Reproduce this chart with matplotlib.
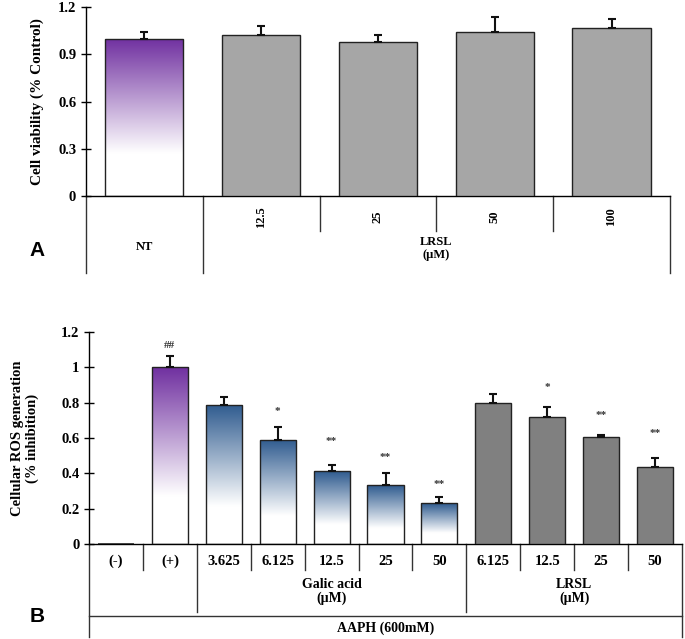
import numpy as np
import matplotlib
matplotlib.use('Agg')
import matplotlib.pyplot as plt
from matplotlib.colors import LinearSegmentedColormap

plt.rcParams['font.family'] = ['Liberation Serif', 'DejaVu Serif']
plt.rcParams['font.weight'] = 'bold'

# Panel A data
a_labels = ['NT', '12.5', '25', '50', '100']
a_values = [1.0, 1.025, 0.976, 1.04, 1.065]
a_errors = [0.04, 0.057, 0.05, 0.095, 0.062]

# Panel B data
b_labels = ['(-)', '(+)', '3.625', '6.125', '12.5', '25', '50',
            '6.125', '12.5', '25', '50']
b_values = [0.005, 1.0, 0.788, 0.589, 0.413, 0.334, 0.232,
            0.80, 0.72, 0.607, 0.437]
b_errors = [0.0, 0.064, 0.042, 0.072, 0.036, 0.066, 0.036,
            0.047, 0.054, 0.01, 0.048]
b_marks = ['', '##', '', '*', '**', '**', '**', '', '*', '**', '**']
b_mark_y = [0, 1.125, 0, 0.75, 0.58, 0.49, 0.335, 0, 0.885, 0.725, 0.625]

PURPLE = '#7030a0'
BLUE = '#2f5b8f'


def gradient_bar(ax, x, h, width, color):
    bar = ax.bar(x, h, width, color='none', edgecolor='#222222', lw=1.0, zorder=3)[0]
    cmap = LinearSegmentedColormap.from_list('g', [(0, 'white'), (0.27, 'white'),
                                                   (1, color)])
    grad = np.linspace(0, 1, 256).reshape(-1, 1)
    im = ax.imshow(grad, cmap=cmap, origin='lower', aspect='auto',
                   extent=(x - width / 2, x + width / 2, 0, h), zorder=2)
    im.set_clip_path(bar)


def style_axis(ax, ymax, step):
    ax.spines['top'].set_visible(False)
    ax.spines['right'].set_visible(False)
    ax.spines['bottom'].set_linewidth(1.0)
    ax.spines['left'].set_linewidth(1.0)
    ax.set_ylim(0, ymax)
    ticks = np.round(np.arange(0, ymax + 1e-9, step), 2)
    ax.set_yticks(ticks)
    ax.set_yticklabels(['%g' % t for t in ticks], fontsize=10.5, fontweight='bold')
    ax.tick_params(axis='y', direction='inout', length=7, width=1)
    ax.set_xticks([])


fig = plt.figure(figsize=(6.85, 6.39), dpi=100)

# ---------------- Panel A ----------------
axA = fig.add_axes([0.1255, 0.6925, 0.8525, 0.2965])
xa = np.arange(len(a_labels))
w = 0.67
gradient_bar(axA, xa[0], a_values[0], w, PURPLE)
axA.bar(xa[1:], a_values[1:], w, color='#a6a6a6', edgecolor='#222222', lw=1.0, zorder=3)
axA.errorbar(xa, a_values, yerr=[np.zeros(len(xa)), a_errors], fmt='none',
             ecolor='#111111', elinewidth=1.5, capsize=3, capthick=1.5, zorder=4)
axA.set_xlim(-0.5, len(xa) - 0.5)
style_axis(axA, 1.2, 0.3)
axA.set_ylabel('Cell viability (% Control)', fontsize=11, fontweight='bold', labelpad=10)

lk = dict(color='#333333', lw=1.0, clip_on=False)
for s in [-0.5, 0.5, 4.5]:
    axA.plot([s, s], [0, -0.484], **lk)
for s in [1.5, 2.5, 3.5]:
    axA.plot([s, s], [0, -0.218], **lk)
for x, lab in zip(xa[1:], a_labels[1:]):
    axA.text(x, -0.13, lab, rotation=90, ha='center', va='center', fontsize=9,
             fontweight='bold')
axA.text(0, -0.32, a_labels[0], ha='center', va='center', fontsize=9, fontweight='bold')
axA.text(2.5, -0.33, 'LRSL\n(\u00b5M)', ha='center', va='center', fontsize=9,
         fontweight='bold', linespacing=1.1)
fig.text(37 / 685, 1 - 251 / 639, 'A', fontsize=15, fontweight='bold',
         family='Liberation Sans', ha='center', va='center')

# ---------------- Panel B ----------------
axB = fig.add_axes([0.130, 0.1487, 0.8656, 0.3317])
xb = np.arange(len(b_labels))
axB.bar(xb[0], b_values[0], w, color='#444444', zorder=3)
gradient_bar(axB, xb[1], b_values[1], w, PURPLE)
for i in range(2, 7):
    gradient_bar(axB, xb[i], b_values[i], w, BLUE)
axB.bar(xb[7:], b_values[7:], w, color='#808080', edgecolor='#222222', lw=1.0, zorder=3)
axB.errorbar(xb[1:], b_values[1:], yerr=[np.zeros(len(xb) - 1), b_errors[1:]],
             fmt='none', ecolor='#111111', elinewidth=1.5, capsize=3, capthick=1.5,
             zorder=4)
for x, m, my in zip(xb, b_marks, b_mark_y):
    if m:
        axB.text(x, my, m, ha='center', va='center', fontsize=8, color='#333333')
axB.set_xlim(-0.5, len(xb) - 0.5)
style_axis(axB, 1.2, 0.2)
axB.set_ylabel('Cellular ROS generation\n(% inhibition)', fontsize=10.5,
               fontweight='bold', labelpad=16, linespacing=1.1)

for s in np.arange(0.5, 10.5, 1.0):
    if s in (1.5, 6.5):
        continue
    axB.plot([s, s], [0, -0.147], **lk)
for s in [1.5, 6.5]:
    axB.plot([s, s], [0, -0.385], **lk)
for s in [-0.5, 10.5]:
    axB.plot([s, s], [0, -0.526], **lk)
axB.plot([-0.5, 10.5], [-0.407, -0.407], **lk)
for x, lab in zip(xb, b_labels):
    axB.text(x, -0.097, lab, ha='center', va='center', fontsize=10.5, fontweight='bold')
axB.text(4.0, -0.27, 'Galic acid\n(\u00b5M)', ha='center', va='center', fontsize=10,
         fontweight='bold', linespacing=1.1)
axB.text(8.5, -0.27, 'LRSL\n(\u00b5M)', ha='center', va='center', fontsize=10,
         fontweight='bold', linespacing=1.1)
axB.text(5.0, -0.475, 'AAPH (600mM)', ha='center', va='center', fontsize=10,
         fontweight='bold')
fig.text(37 / 685, 1 - 617 / 639, 'B', fontsize=15, fontweight='bold',
         family='Liberation Sans', ha='center', va='center')

fig.savefig('out.png', dpi=100)
